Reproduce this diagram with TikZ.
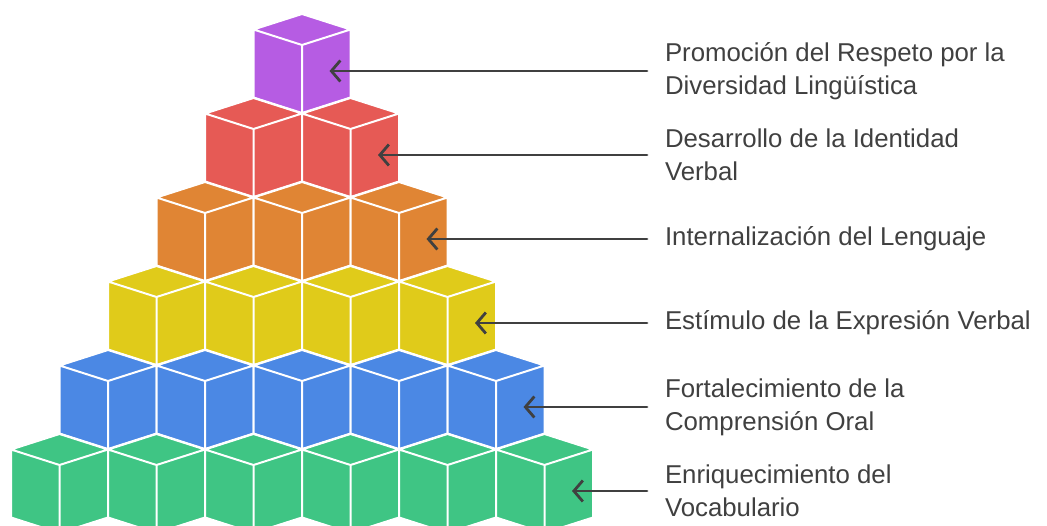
\documentclass[tikz,border=0pt]{standalone}
\usepackage{fontspec}
\setmainfont{Liberation Sans}
\usetikzlibrary{arrows.meta}
\definecolor{cubepurple}{HTML}{B65CE3}
\definecolor{cubered}{HTML}{E65A55}
\definecolor{cubeorange}{HTML}{E08534}
\definecolor{cubeyellow}{HTML}{E0CB1A}
\definecolor{cubeblue}{HTML}{4B88E4}
\definecolor{cubegreen}{HTML}{3FC584}
\definecolor{labelgray}{HTML}{404040}
\begin{document}
\begin{tikzpicture}[x=1pt,y=-1pt,
                    cube/.pic={
                      \path[pic actions] (0,0) -- (48.5,15.5) -- (48.5,83.5) -- (0,99) -- (-48.5,83.5) -- (-48.5,15.5) -- cycle;
                      \draw[white,line width=2pt,line join=round]
                        (0,0) -- (48.5,15.5) -- (48.5,83.5) -- (0,99) -- (-48.5,83.5) -- (-48.5,15.5) -- cycle
                        (-48.5,15.5) -- (0,31) -- (48.5,15.5) (0,31) -- (0,99);
                    },
                    label node/.style={anchor=west,align=left,inner sep=0pt,outer xsep=18pt,
                                       text=labelgray,font=\fontsize{25.8}{33}\selectfont},
                    conn/.style={draw=labelgray,line width=2.8pt,line cap=round,
                                 -{Straight Barb[length=9pt,width=21pt]}}
                   ]
  \useasboundingbox (0,0) rectangle (1047,526);

  % cubes, top row first
  \pic[fill=cubepurple] at (302,14) {cube};
  \pic[fill=cubered] at (253.5,98) {cube};
  \pic[fill=cubered] at (350.5,98) {cube};
  \pic[fill=cubeorange] at (205,182) {cube};
  \pic[fill=cubeorange] at (302,182) {cube};
  \pic[fill=cubeorange] at (399,182) {cube};
  \pic[fill=cubeyellow] at (156.5,266) {cube};
  \pic[fill=cubeyellow] at (253.5,266) {cube};
  \pic[fill=cubeyellow] at (350.5,266) {cube};
  \pic[fill=cubeyellow] at (447.5,266) {cube};
  \pic[fill=cubeblue] at (108,350) {cube};
  \pic[fill=cubeblue] at (205,350) {cube};
  \pic[fill=cubeblue] at (302,350) {cube};
  \pic[fill=cubeblue] at (399,350) {cube};
  \pic[fill=cubeblue] at (496,350) {cube};
  \pic[fill=cubegreen] at (59.5,434) {cube};
  \pic[fill=cubegreen] at (156.5,434) {cube};
  \pic[fill=cubegreen] at (253.5,434) {cube};
  \pic[fill=cubegreen] at (350.5,434) {cube};
  \pic[fill=cubegreen] at (447.5,434) {cube};
  \pic[fill=cubegreen] at (544.5,434) {cube};

  % arrow tips
  \coordinate (t1) at (329.5,71);
  \coordinate (t2) at (378,155);
  \coordinate (t3) at (426.5,239);
  \coordinate (t4) at (475,323);
  \coordinate (t5) at (523.5,407);
  \coordinate (t6) at (572,491);

  \node[label node] (l1) at (647,71) {Promoción del Respeto por la\\Diversidad Lingüística};
  \node[label node] (l2) at (647,155) {Desarrollo de la Identidad\\Verbal};
  \node[label node] (l3) at (647,239) {Internalización del Lenguaje};
  \node[label node] (l4) at (647,323) {Estímulo de la Expresión Verbal};
  \node[label node] (l5) at (647,407) {Fortalecimiento de la\\Comprensión Oral};
  \node[label node] (l6) at (647,491) {Enriquecimiento del\\Vocabulario};

  \path%
   (l1) edge [conn] (t1)
   (l2) edge [conn] (t2)
   (l3) edge [conn] (t3)
   (l4) edge [conn] (t4)
   (l5) edge [conn] (t5)
   (l6) edge [conn] (t6);
\end{tikzpicture}
\end{document}
